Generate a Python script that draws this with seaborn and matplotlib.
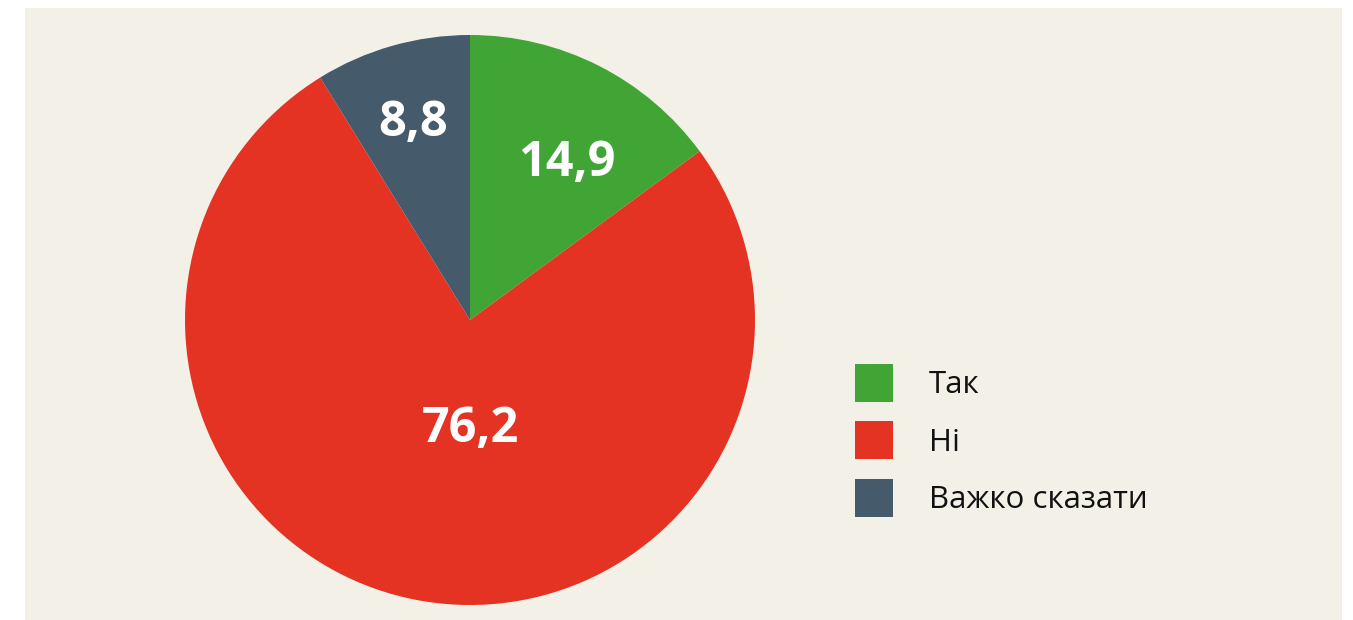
import matplotlib
matplotlib.use("Agg")
import matplotlib.pyplot as plt
from matplotlib.patches import Rectangle, Patch
import seaborn as sns

# Дані
categories = ["Так", "Ні", "Важко сказати"]
values = [14.9, 76.2, 8.8]
value_labels = ["14,9", "76,2", "8,8"]

colors = ["#41A535", "#E53323", "#455B6B"]
bg_color = "#F3F0E8"

sns.set_theme(style="white")
plt.rcParams["font.family"] = ["Open Sans", "DejaVu Sans"]

W, H = 1353, 620
fig = plt.figure(figsize=(W / 100, H / 100), dpi=100)
fig.patch.set_facecolor("white")

# Бежева панель
fig.add_artist(Rectangle((25 / W, 0), (1342 - 25) / W, (620 - 8) / H,
                         transform=fig.transFigure, facecolor=bg_color,
                         edgecolor="none", zorder=0))

# Кругова діаграма
cx, cy, r = 470, 320, 285
ax = fig.add_axes([(cx - r) / W, (H - cy - r) / H, 2 * r / W, 2 * r / H])
ax.set_facecolor("none")
wedges, _ = ax.pie(values, colors=colors, startangle=90, counterclock=False,
                   radius=1, wedgeprops=dict(linewidth=0))
ax.set_aspect("equal")
ax.set_xlim(-1, 1)
ax.set_ylim(-1, 1)
ax.axis("off")

# Підписи значень
label_pos = [(0.34, 0.55), (0.0, -0.385), (-0.2, 0.69)]
for (x, y), txt in zip(label_pos, value_labels):
    ax.text(x, y, txt, ha="center", va="center", color="white",
            fontsize=35, fontweight="bold")

# Легенда
handles = [Patch(facecolor=c, edgecolor="none") for c in colors]
leg = fig.legend(handles, categories, loc="upper left",
                 bbox_to_anchor=(855 / W, 1 - 364 / H),
                 frameon=False, fontsize=22.5, handlelength=1.22,
                 handleheight=1.494, handletextpad=1.15, labelspacing=0.62,
                 borderaxespad=0, borderpad=0)
for t in leg.get_texts():
    t.set_color("#111111")

fig.savefig("out.png", dpi=100, facecolor=fig.get_facecolor())
